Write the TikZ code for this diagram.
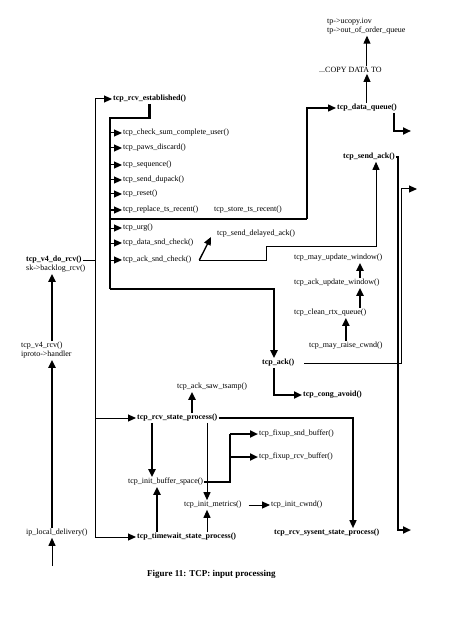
\documentclass[tikz,border=0pt]{standalone}
\usepackage{fontspec}
\setmainfont{Liberation Serif}
\usetikzlibrary{arrows.meta, positioning, calc}

\begin{document}
\begin{tikzpicture}[
    x=1pt, y=-1pt,
    every node/.style={font=\fontsize{8}{9}\selectfont, inner sep=1pt, anchor=west},
    bfn/.style={font=\fontsize{8}{9}\selectfont\bfseries},
    figcap/.style={font=\fontsize{9}{10}\selectfont\bfseries},
    ln/.style={line width=1.0pt},
    mln/.style={line width=1.4pt},
    bln/.style={line width=2.2pt},
    arr/.style={-{Triangle[length=8pt, width=7pt]}, line width=1.0pt},
    marr/.style={-{Triangle[length=8pt, width=7pt]}, line width=1.4pt},
    barr/.style={-{Triangle[length=8pt, width=7pt]}, line width=2.0pt},
]
\useasboundingbox (0,0) rectangle (457,644);

% ================================================================ left column
\node[bfn] (v4do)    at (25,260) {tcp\_v4\_do\_rcv()};
\node      (backlog) at (25,269) {sk->backlog\_rcv()};
\node      (v4rcv)   at (20,346) {tcp\_v4\_rcv()};
\node      (handler) at (20,355) {iproto->handler};
\node      (ipld)    at (25,533) {ip\_local\_delivery()};

\coordinate (lcol) at (52,0);
\coordinate (inp)  at (52,566);
\draw[arr]  (inp) -- (ipld.south -| lcol);
\draw[barr] (ipld.north -| lcol) -- (handler.south -| lcol);
\draw[barr] (v4rcv.north -| lcol) -- (backlog.south -| lcol);

% the bus
\coordinate (bustop) at (95,99);
\coordinate (busbot) at (95,537);
\draw[ln] (bustop) -- (busbot);
\draw[ln] (v4do.east) -- (v4do.east -| bustop);

% ========================================================= established path
\node[bfn] (est) at (112,99) {tcp\_rcv\_established()};

\node (csum)    at (122,133) {tcp\_check\_sum\_complete\_user()};
\node (paws)    at (122,148) {tcp\_paws\_discard()};
\node (seq)     at (122,165) {tcp\_sequence()};
\node (dupack)  at (122,180) {tcp\_send\_dupack()};
\node (reset)   at (122,194) {tcp\_reset()};
\node (replace) at (122,210) {tcp\_replace\_ts\_recent()};
\node (store)   at (213,210) {tcp\_store\_ts\_recent()};
\node (urg)     at (122,228) {tcp\_urg()};
\node (dsnd)    at (122,243) {tcp\_data\_snd\_check()};
\node (asnd)    at (122,260) {tcp\_ack\_snd\_check()};
\node (delack)  at (216,234) {tcp\_send\_delayed\_ack()};

\draw[arr] (bustop) -- (est.west);

\coordinate (bxtop)  at (110,118);
\coordinate (bxmid)  at (110,219);
\coordinate (bxbot)  at (110,289);
\coordinate (dqbend) at (307,219);
\coordinate (ackx)   at (274,0);

\draw[bln] (est.south) |- (bxtop) -- (bxbot);
\foreach \n in {csum, paws, seq, dupack, reset, replace, urg, dsnd, asnd}
  \draw[arr] (\n.west -| bxtop) -- (\n.west);

% ============================================================== data queue
\node[bfn] (dq)    at (336,108) {tcp\_data\_queue()};
\node      (copy)  at (318,70) {...COPY DATA TO};
\node[align=left] (ucopy) at (326,26.5) {tp->ucopy.iov\\tp->out\_of\_order\_queue};

\draw[bln]  (bxmid) -- (dqbend);
\draw[marr] (dqbend) |- (dq.west);
\draw[arr]  (dq.north) -- (copy.south -| dq.north);
\draw[arr]  (copy.north -| dq.north) -- (ucopy.south -| dq.north);

\coordinate (dqr)  at ($(dq.south east)+(-4,0)$);
\coordinate (outc) at (411,131);
\draw[barr] (dqr) |- (outc);

% ================================================================= send ack
\node[bfn] (sack)  at (342,157) {tcp\_send\_ack()};
\node      (mupd)  at (293,258) {tcp\_may\_update\_window()};
\node      (aupd)  at (293,283) {tcp\_ack\_update\_window()};
\node      (clean) at (293,313) {tcp\_clean\_rtx\_queue()};
\node      (raise) at (308,346) {tcp\_may\_raise\_cwnd()};

\coordinate (asx)   at ($(asnd.east)+(7,0)$);
\coordinate (sackx) at (376,0);
\coordinate (chx)   at (360,0);
\draw[marr] (asx) -- ($(delack.west)+(-5,3)$);
\draw[arr]  (asx) -| ++(67,-14) -| (sack.south -| sackx);

\draw[barr] (aupd.north -| chx) -- (mupd.south -| chx);
\draw[barr] (clean.north -| chx) -- (aupd.south -| chx);
\draw[barr] (raise.north) -- (clean.south -| raise.north);

\coordinate (xthick) at (398,0);
\coordinate (outb)   at (411,530);
\draw[barr] (sack.east) -| (outb -| xthick) -- (outb);

% ====================================================================== ack
\node[bfn] (ack)  at (261,363) {tcp\_ack()};
\node[bfn] (cong) at (302,395) {tcp\_cong\_avoid()};

\draw[barr] (bxbot) -| (ack.north -| ackx);
\draw[barr] (ack.south -| ackx) |- (cong.west);

\coordinate (xthin) at (401,0);
\coordinate (outa)  at (417,189);
\draw[arr, shorten <=9pt] (ack.east) -| (outa -| xthin) -- (outa);

% ============================================================ state process
\node[bfn] (rsp)    at (136,418) {tcp\_rcv\_state\_process()};
\node      (saw)    at (176,387) {tcp\_ack\_saw\_tsamp()};
\node      (ibs)    at (127,482) {tcp\_init\_buffer\_space()};
\node      (imet)   at (183,505) {tcp\_init\_metrics()};
\node      (fsnd)   at (258,434) {tcp\_fixup\_snd\_buffer()};
\node      (frcv)   at (258,457) {tcp\_fixup\_rcv\_buffer()};
\node      (cwnd)   at (270,505) {tcp\_init\_cwnd()};
\node[bfn] (twsp)   at (136,537) {tcp\_timewait\_state\_process()};
\node[bfn] (sysent) at (273,533) {tcp\_rcv\_sysent\_state\_process()};

\draw[arr] (bustop |- rsp.west) -- (rsp.west);
\draw[arr] (busbot) -- (twsp.west);

\coordinate (sawx) at (192,0);
\coordinate (xa)   at (152,0);
\coordinate (xb)   at (157,0);
\coordinate (xm)   at (207,0);
\coordinate (fx)   at (230,0);
\coordinate (sysx) at (353,0);

\draw[barr] (rsp.north -| sawx) -- (saw.south -| sawx);
\draw[barr] (rsp.south -| xa) -- (ibs.north -| xa);
\draw[barr] (twsp.north -| xb) -- (ibs.south -| xb);
\draw[arr]  (rsp.south -| xm) -- (imet.north -| xm);
\draw[arr]  (twsp.north -| xm) -- (imet.south -| xm);

\draw[bln]  (ibs.east) -| (fsnd.west -| fx) -- (frcv.west -| fx);
\draw[barr] (fsnd.west -| fx) -- (fsnd.west);
\draw[barr] (frcv.west -| fx) -- (frcv.west);

\draw[arr, shorten <=6pt] (imet.east) -- (cwnd.west);
\draw[marr] (rsp.east) -| (sysent.north -| sysx);

\node[figcap] (caption) at (146,574) {Figure 11: TCP: input processing};

\end{tikzpicture}
\end{document}
